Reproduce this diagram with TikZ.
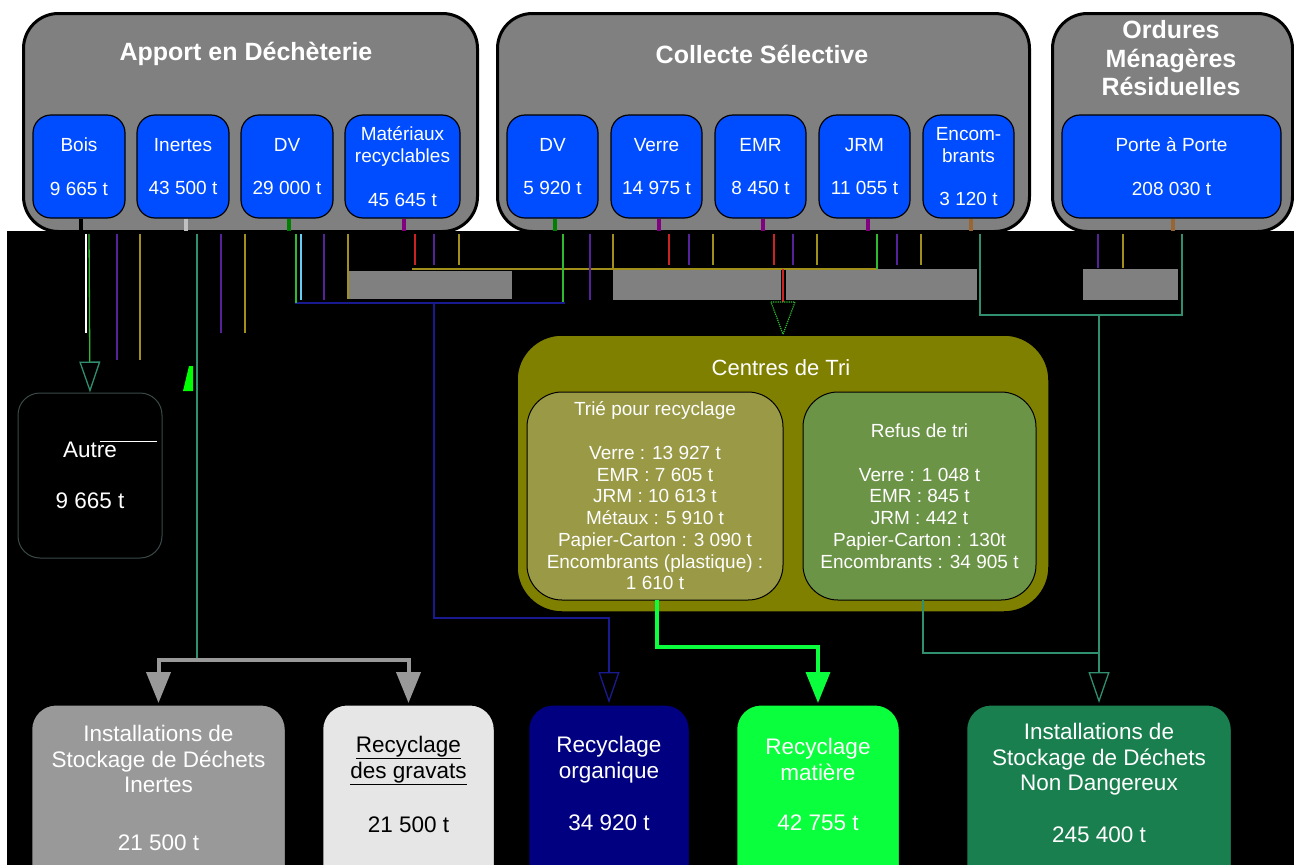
\documentclass[tikz,border=0pt]{standalone}
\usepackage{fontspec}
\setmainfont{Liberation Sans}
\usetikzlibrary{arrows.meta}
\definecolor{grp}{HTML}{808080}
\definecolor{blu}{HTML}{004DFF}
\definecolor{oliv}{HTML}{808000}
\definecolor{triec}{HTML}{999946}
\definecolor{refusc}{HTML}{6B9447}
\definecolor{isdic}{HTML}{999999}
\definecolor{gravc}{HTML}{E6E6E6}
\definecolor{orgac}{HTML}{000080}
\definecolor{matc}{HTML}{0AFF3C}
\definecolor{isdndc}{HTML}{1A7F4E}
\definecolor{lgreen}{HTML}{2EBB2E}
\definecolor{lpurple}{HTML}{55229A}
\definecolor{lolive}{HTML}{A0901A}
\definecolor{lteal}{HTML}{2F8F6F}
\definecolor{lred}{HTML}{CC2222}
\definecolor{lnavy}{HTML}{1A1A90}
\definecolor{stubgray}{HTML}{C0C0C0}
\definecolor{stubgreen}{HTML}{008000}
\definecolor{stubpurple}{HTML}{800080}
\definecolor{stubbrown}{HTML}{996633}
\definecolor{edgegray}{HTML}{3A4A48}
\tikzset{
  grpbox/.style={draw=black, line width=3pt, fill=grp, rounded corners=35pt, inner sep=0pt, anchor=north west},
  bluebox/.style={draw=black, line width=1.2pt, fill=blu, rounded corners=18pt, inner sep=0pt, text=white, align=center, font=\fontsize{19}{21.8}\selectfont, minimum height=103pt},
  grptitle/.style={text=white, font=\bfseries\fontsize{25}{28.5}\selectfont, align=center},
  wire/.style={line width=1.3pt},
  stub/.style={line width=4pt},
  grayrect/.style={fill=grp},
  subbox/.style={draw=black, line width=1pt, rounded corners=35pt, inner sep=0pt, text=white, align=center, font=\fontsize{19}{21.75}\selectfont},
  botbox/.style={draw=black, line width=2.5pt, rounded corners=25pt, inner sep=0pt, anchor=north, minimum height=190pt},
  bottext/.style={align=center, font=\fontsize{22.5}{25.5}\selectfont},
  opentip/.style={-{Triangle[open, length=31pt, width=21pt, color=#1]}},
  filltip/.style={-{Triangle[length=31pt, width=24pt]}}
}
\begin{document}
\begin{tikzpicture}[x=1pt,y=-1pt]
\useasboundingbox (0,0) rectangle (1294,865);
\clip (0,0) rectangle (1294,865);
\fill[white] (0,0) rectangle (1294,865);
\fill[black] (7,231) rectangle (1294,865);

% ---------- top groups ----------
\node[grpbox, minimum width=454pt, minimum height=218pt] (apport) at (22,12) {};
\node[grptitle] (apport-t) at (246,54) {Apport en Déchèterie};
\node[grpbox, minimum width=532pt, minimum height=218pt] (collecte) at (496,12) {};
\node[grptitle] (collecte-t) at (762,54) {Collecte Sélective};
\node[grpbox, minimum width=240pt, minimum height=218pt] (omr) at (1051,12) {};
\node[grptitle] (omr-t) at (1171,58.5) {Ordures\\Ménagères\\Résiduelles};

\node[bluebox, minimum width=92pt] (bois) at (79,166.5) {Bois\\~\\9 665 t};
\node[bluebox, minimum width=92pt] (inertes) at (183,166.5) {Inertes\\~\\43 500 t};
\node[bluebox, minimum width=92pt] (dva) at (287,166.5) {DV\\~\\29 000 t};
\node[bluebox, minimum width=115pt] (matrec) at (402.5,166.5) {Matériaux\\recyclables\\~\\45 645 t};

\node[bluebox, minimum width=91pt] (dvc) at (552.5,166.5) {DV\\~\\5 920 t};
\node[bluebox, minimum width=91pt] (verre) at (656.5,166.5) {Verre\\~\\14 975 t};
\node[bluebox, minimum width=91pt] (emr) at (760.5,166.5) {EMR\\~\\8 450 t};
\node[bluebox, minimum width=91pt] (jrm) at (864.5,166.5) {JRM\\~\\11 055 t};
\node[bluebox, minimum width=91pt] (encom) at (968.5,166.5) {Encom-\\brants\\~\\3 120 t};

\node[bluebox, minimum width=219pt] (pap) at (1171.5,166.5) {Porte à Porte\\~\\208 030 t};

% stubs
\draw[stub, black] ([xshift=2pt]bois.south) -- ++(0,12);
\draw[stub, stubgray] ([xshift=3pt]inertes.south) -- ++(0,12);
\draw[stub, stubgreen] ([xshift=2pt]dva.south) -- ++(0,12);
\draw[stub, stubpurple] ([xshift=1.5pt]matrec.south) -- ++(0,12);
\draw[stub, stubgreen] ([xshift=2pt]dvc.south) -- ++(0,12);
\draw[stub, stubpurple] ([xshift=2pt]verre.south) -- ++(0,12);
\draw[stub, stubpurple] ([xshift=2pt]emr.south) -- ++(0,12);
\draw[stub, stubpurple] ([xshift=3pt]jrm.south) -- ++(0,12);
\draw[stub, stubbrown] ([xshift=2pt]encom.south) -- ++(0,12);
\draw[stub, stubbrown] ([xshift=1.5pt]pap.south) -- ++(0,12);

% ---------- grey bars ----------
\fill[grayrect] (348,271) rectangle (512,299);
\fill[grayrect] (613,269) rectangle (781,300);
\fill[grayrect] (786,269) rectangle (977,300);
\fill[grayrect] (1083,269) rectangle (1178,300);
\draw[wire, lolive] (412,269) -- (877,269);

% ---------- thin lines ----------
\draw[white, line width=2pt] (86,234) -- (86,333);
\draw[wire, lpurple] (117,234) -- (117,360);
\draw[wire, lolive] (140,234) -- (140,360);
\draw[wire, lpurple] (221,234) -- (221,333);
\draw[wire, lolive] (245,234) -- (245,333);
\fill[green] (189,366) -- (193,366) -- (193,391) -- (183,391) -- cycle;

\draw[wire, cyan!60] (301,234) -- (301,300);
\draw[wire, lpurple] (324,234) -- (324,300);
\draw[wire, lolive] (348,234) -- (348,299);
\draw[wire, lred] (415,234) -- (415,265);
\draw[wire, lpurple] (434,234) -- (434,265);
\draw[wire, lolive] (459,234) -- (459,265);
\draw[wire, lgreen] (563,234) -- (563,303);
\draw[wire, lpurple] (590,234) -- (590,300);
\draw[wire, lolive] (613,234) -- (613,269);
\draw[wire, lred] (669,234) -- (669,265);
\draw[wire, lpurple] (689,234) -- (689,265);
\draw[wire, lolive] (713,234) -- (713,265);
\draw[wire, lred] (774,234) -- (774,265);
\draw[wire, lpurple] (793,234) -- (793,265);
\draw[wire, lolive] (817,234) -- (817,265);
\draw[wire, lgreen] (877,234) -- (877,269);
\draw[wire, lpurple] (897,234) -- (897,265);
\draw[wire, lolive] (921,234) -- (921,265);
\draw[wire, lpurple] (1098,234) -- (1098,268);
\draw[wire, lolive] (1123,234) -- (1123,268);

% ---------- Autre ----------
\node[draw=edgegray, line width=1pt, rounded corners=22pt, minimum width=144pt, minimum height=165pt, inner sep=0pt, text=white, align=center, font=\fontsize{22.5}{25.5}\selectfont] (autre) at (90,475.5) {Autre\\~\\9 665 t};
\draw[white, line width=1pt] (100,441) -- (157,441);

% ---------- Centres de Tri ----------
\node[draw=black, line width=1.5pt, fill=oliv, rounded corners=45pt, minimum width=532pt, minimum height=277pt, inner sep=0pt] (centre) at (783,473.5) {};
\node[text=white, font=\fontsize{22}{25}\selectfont] (centre-t) at (781,368) {Centres de Tri};
\node[subbox, fill=triec, minimum width=256pt, minimum height=208pt] (trie) at (655,496) {Trié pour recyclage\\~\\Verre : 13 927 t\\EMR : 7 605 t\\JRM : 10 613 t\\Métaux : 5 910 t\\Papier-Carton : 3 090 t\\Encombrants (plastique) :\\1 610 t};
\node[subbox, fill=refusc, minimum width=233pt, minimum height=208pt] (refus) at (919.5,496) {Refus de tri\\~\\Verre : 1 048 t\\EMR : 845 t\\JRM : 442 t\\Papier-Carton : 130t\\Encombrants : 34 905 t};

% ---------- bottom boxes ----------
\node[botbox, fill=isdic, minimum width=255pt] (isdi) at (158.5,703) {};
\node[bottext, text=white] (isdi-l) at (158.5,759) {Installations de\\Stockage de Déchets\\Inertes};
\node[bottext, text=white] (isdi-n) at (158.5,843) {21 500 t};
\node[botbox, fill=gravc, minimum width=173pt] (grav) at (408.5,703) {};
\node[bottext, text=black] (grav-l) at (408.5,760.5) {\underline{Recyclage}\\\underline{des gravats}};
\node[bottext, text=black] (grav-n) at (408.5,825) {21 500 t};
\node[botbox, fill=orgac, minimum width=162pt] (orga) at (609,703) {};
\node[bottext, text=white] (orga-l) at (609,759.5) {Recyclage\\organique};
\node[bottext, text=white] (orga-n) at (609,823) {34 920 t};
\node[botbox, fill=matc, minimum width=164pt] (matb) at (818,703) {};
\node[bottext, text=white] (matb-l) at (818,759.5) {Recyclage\\matière};
\node[bottext, text=white] (matb-n) at (818,823) {42 755 t};
\node[botbox, fill=isdndc, minimum width=266pt] (isdnd) at (1099,703) {};
\node[bottext, text=white] (isdnd-l) at (1099,759.5) {Installations de\\Stockage de Déchets\\Non Dangereux};
\node[bottext, text=white] (isdnd-n) at (1099,835) {245 400 t};

% ---------- connectors ----------
\coordinate (a-top) at (89,234);
\draw[wire, lgreen, opentip=lteal] (a-top) -- (autre.north);

\coordinate (i-top) at (197,234);
\coordinate (i-junc) at (197,660);
\draw[wire, lteal] (i-top) -- (i-junc);
\draw[line width=4pt, isdic, filltip] (i-junc) -| (isdi.north);
\draw[line width=4pt, isdic, filltip] (i-junc) -| (grav.north);

\coordinate (d-top) at (296,234);
\coordinate (d-right) at (565,303);
\coordinate (d-mid) at (434,303);
\draw[wire, lnavy] (d-top) |- (d-right);
\draw[wire, lgreen] (d-top) -- (296,303);
\draw[wire, lnavy, opentip=lnavy] (d-mid) |- (609,618) -- (orga.north);

\coordinate (c-top) at (783,269);
\draw[wire, lred] (c-top) -- (783,302);
\draw[lgreen, line width=1.2pt, densely dotted] (771,302) -- (795,302) -- (centre.north) -- cycle;

\coordinate (o-left) at (980,234);
\coordinate (o-right) at (1182,234);
\coordinate (o-mid) at (1099,315);
\draw[wire, lteal] (o-left) |- (o-right |- o-mid) -- (o-right);
\draw[wire, lteal, opentip=lteal] (o-mid) -- (isdnd.north);

\coordinate (r-bot) at (923,600);
\draw[wire, lteal] (r-bot) |- (1099,653);

\coordinate (t-bot) at (657,600);
\draw[line width=3.5pt, matc, filltip] (t-bot) |- (818,647) -- (matb.north);
\end{tikzpicture}
\end{document}
